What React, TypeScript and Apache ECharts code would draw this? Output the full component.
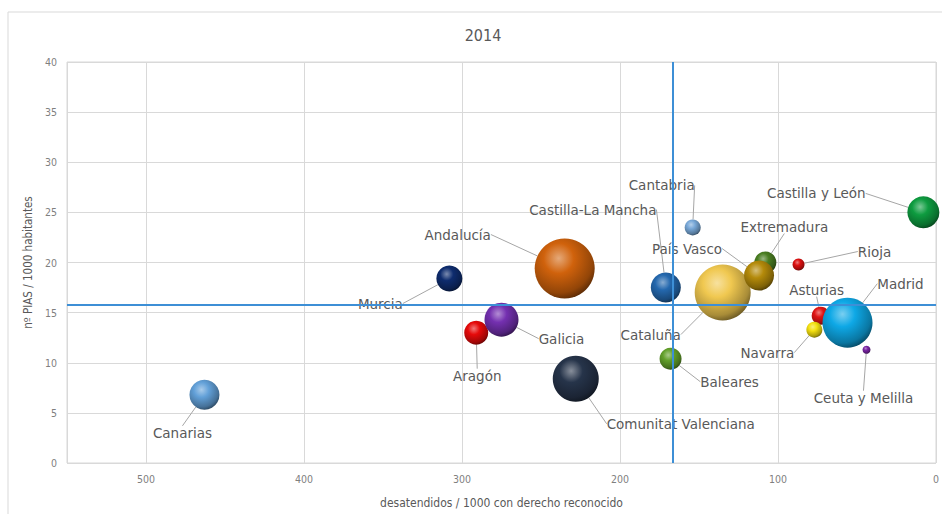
import React, { useEffect, useRef } from "react";
import * as echarts from "echarts";

// ---- data ----
const regions = [
  "Andalucía", "Aragón", "Asturias", "Baleares", "Canarias", "Cantabria",
  "Castilla y León", "Castilla-La Mancha", "Cataluña", "Comunitat Valenciana",
  "Extremadura", "Galicia", "Madrid", "Murcia", "Navarra", "País Vasco",
  "Rioja", "Ceuta y Melilla",
];
// desatendidos / 1000 con derecho reconocido
const desatendidos = [235, 291, 73, 168, 463, 154, 8, 171, 135, 228, 108, 275, 56, 308, 77, 112, 87, 44];
// nº PIAS / 1000 habitantes
const pias = [19.4, 13.0, 14.7, 10.4, 6.8, 23.5, 25.0, 17.5, 17.0, 8.4, 20.0, 14.3, 14.0, 18.4, 13.3, 18.7, 19.8, 11.3];
// bubble size value
const bubbleValue = [9000, 1440, 810, 1210, 2250, 640, 2560, 2250, 7840, 5290, 1210, 2890, 6250, 1690, 640, 2250, 360, 160];
// reference (average) lines
const refX = 166.5;
const refY = 15.75;
const xTicks = [0, 100, 200, 300, 400, 500];
const title = "2014";

// ---- styling ----
const palette = [
  "#d0620c", "#e60a0a", "#e01414", "#62a02a", "#62a0d8", "#78a8d8",
  "#0e9c40", "#2468ae", "#f0c850", "#26344a", "#4a7e22", "#7430b0",
  "#0ea8e6", "#0e2c6e", "#f4e010", "#b48a0a", "#dc1010", "#7a24a4",
];
const labelOffsets: Record<string, [number, number]> = {
  "Andalucía": [-107, -34],
  "Aragón": [1, 43],
  "Asturias": [-4, -26],
  "Baleares": [59, 23],
  "Canarias": [-22, 38],
  "Cantabria": [-31, -42],
  "Castilla y León": [-107, -19],
  "Castilla-La Mancha": [-73, -78],
  "Cataluña": [-72, 42],
  "Comunitat Valenciana": [105, 45],
  "Extremadura": [19, -36],
  "Galicia": [60, 19],
  "Madrid": [53, -39],
  "Murcia": [-69, 25],
  "Navarra": [-47, 23],
  "País Vasco": [-72, -27],
  "Rioja": [76, -13],
  "Ceuta y Melilla": [-3, 48],
};

function mix(hex: string, target: number, t: number) {
  const n = parseInt(hex.slice(1), 16);
  const ch = [(n >> 16) & 255, (n >> 8) & 255, n & 255].map((c) =>
    Math.round(c + (target - c) * t)
  );
  return `rgb(${ch[0]},${ch[1]},${ch[2]})`;
}
function sphere(hex: string) {
  return new echarts.graphic.RadialGradient(0.4, 0.33, 0.72, [
    { offset: 0, color: mix(hex, 255, 0.45) },
    { offset: 0.35, color: hex },
    { offset: 0.8, color: mix(hex, 0, 0.3) },
    { offset: 1, color: mix(hex, 0, 0.6) },
  ]);
}

const axisFont = "'Liberation Sans Narrow', 'DejaVu Sans Condensed', sans-serif";

export default function App() {
  const ref = useRef<HTMLDivElement>(null);
  useEffect(() => {
    if (!ref.current) return;
    const chart = echarts.init(ref.current, undefined, { renderer: "svg" });
    const data = regions.map((name, i) => ({
      name,
      value: [desatendidos[i], pias[i], bubbleValue[i]],
      itemStyle: { color: sphere(palette[i]), opacity: 1 },
    }));
    chart.setOption({
      animation: false,
      backgroundColor: "#ffffff",
      graphic: [
        {
          type: "rect",
          shape: { x: 8, y: 12, width: 940, height: 510 },
          style: { fill: "none", stroke: "#d9d9d9", lineWidth: 1 },
          silent: true,
        },
        {
          type: "text",
          x: 483,
          y: 35,
          style: {
            text: title,
            fill: "#595959",
            fontSize: 16,
            fontFamily: axisFont,
            align: "center",
            verticalAlign: "middle",
          },
        },
      ],
      grid: { left: 67, right: 5, top: 62, bottom: 51, show: true, borderColor: "#d9d9d9", borderWidth: 1 },
      xAxis: {
        type: "value",
        min: 0,
        max: 550,
        interval: 100,
        inverse: true,
        name: "desatendidos / 1000 con derecho reconocido",
        nameLocation: "middle",
        nameGap: 34,
        nameTextStyle: { color: "#595959", fontSize: 12, fontFamily: axisFont },
        axisLine: { show: false },
        axisTick: { show: false },
        axisLabel: {
          color: "#7f7f7f",
          fontSize: 10.5,
          fontFamily: axisFont,
          margin: 10,
          showMaxLabel: false,
          formatter: (v: number) => (xTicks.includes(v) ? String(v) : ""),
        },
        splitLine: { lineStyle: { color: "#d9d9d9", width: 1 } },
      },
      yAxis: {
        type: "value",
        min: 0,
        max: 40,
        interval: 5,
        name: "nº PIAS / 1000 habitantes",
        nameLocation: "middle",
        nameGap: 27,
        nameTextStyle: { color: "#595959", fontSize: 11.5, fontFamily: axisFont },
        axisLine: { show: false },
        axisTick: { show: false },
        axisLabel: { color: "#7f7f7f", fontSize: 10.5, fontFamily: axisFont, margin: 10 },
        splitLine: { lineStyle: { color: "#d9d9d9", width: 1 } },
      },
      series: [
        {
          type: "scatter",
          data,
          itemStyle: { opacity: 1 },
          symbolSize: (val: number[]) => 2 * Math.sqrt(val[2] / 10),
          label: {
            show: true,
            position: "inside",
            formatter: (p: any) => p.name,
            color: "#595959",
            fontSize: 13.5,
            fontFamily: "'DejaVu Sans', Verdana, sans-serif",
          },
          labelLayout: (params: any) => {
            const name = regions[params.dataIndex];
            const o = labelOffsets[name] || [0, 0];
            return { dx: o[0], dy: o[1] };
          },
          labelLine: { show: true, lineStyle: { color: "#a6a6a6", width: 1 } },
          markLine: {
            silent: true,
            symbol: "none",
            label: { show: false },
            lineStyle: { color: "#3d8fd6", width: 2, type: "solid" },
            data: [{ xAxis: refX }, { yAxis: refY }],
            z: 10,
          },
        },
      ],
    });
    return () => chart.dispose();
  }, []);
  return (
    <div
      ref={ref}
      style={{ position: "absolute", left: 0, top: 0, width: 942, height: 514 }}
    />
  );
}
